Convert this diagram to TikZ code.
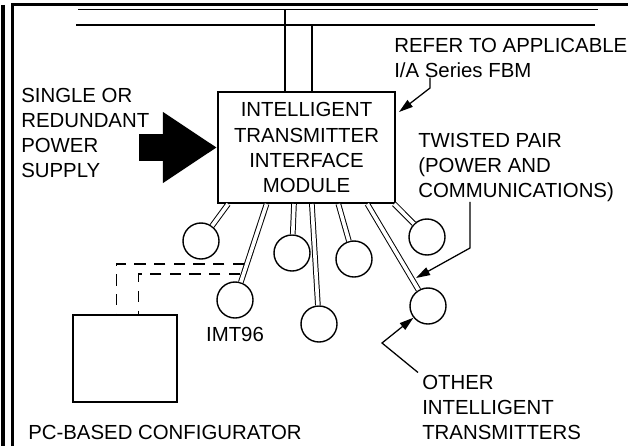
\documentclass[tikz,border=0pt]{standalone}
\usepackage{fontspec}
\setmainfont{Liberation Sans}
\usetikzlibrary{arrows.meta,positioning,calc}

\begin{document}
\begin{tikzpicture}[x=0.025cm, y=-0.025cm,
    every node/.style={font=\fontsize{14.5pt}{17.8pt}\selectfont},
    note/.style={inner sep=0pt, align=left, anchor=north west},
    module/.style={rectangle, draw=black, line width=1.4pt, minimum width=4.425cm, minimum height=2.775cm, align=center, inner sep=0pt},
    pcbox/.style={rectangle, draw=black, line width=1.4pt, minimum width=2.6cm, minimum height=2.175cm},
    station/.style={circle, draw=black, line width=1pt, minimum size=0.9cm, inner sep=0pt},
    frame/.style={line width=2.2pt},
    bus/.style={line width=1.4pt},
    wire/.style={line width=1pt},
    cable/.style={draw=black, line width=0.7pt, double=white, double distance=2.6pt},
    dashlink/.style={line width=0.9pt, dash pattern=on 8pt off 6pt},
    pointer/.style={->, >={Triangle[length=10pt,width=6pt]}, line width=0.9pt},
    power/.style={line width=18.5pt, -{Triangle[length=38.4pt,width=47.7pt]}}
]
    \useasboundingbox (0,0) rectangle (628,446);

    % Ramka
    \draw[frame] (3,5) -- (3,446);
    \draw[frame] (12.5,446) -- (12.5,4.5) -- (628,4.5);

    % Magistrala
    \draw[bus] (78,9.5) -- (598,9.5);
    \draw[bus] (76,25) -- (595,25);

    % Modul
    \node[module] (itim) at (306.5,147.5) {INTELLIGENT\\TRANSMITTER\\INTERFACE\\MODULE};
    \coordinate (tapA) at (285,9.5);
    \coordinate (tapB) at (312,25);
    \draw[wire] (tapA) -- (tapA |- itim.north);
    \draw[wire] (tapB) -- (tapB |- itim.north);

    % Zasilanie
    \node[note] (pwr) at (21,87.7) {SINGLE OR\\REDUNDANT\\POWER\\SUPPLY};
    \coordinate (pwrtail) at (139,147.5);
    \draw[power] (pwrtail) -- (itim.west);

    % FBM
    \node[note] (refer) at (394,37.7) {REFER TO APPLICABLE\\I/A Series FBM};
    \coordinate (referknee) at (430,88);
    \coordinate (refertip) at ($(itim.north east)+(3,21)$);
    \draw[pointer] (referknee |- refer.south) -- (referknee) -- (refertip);

    % Nadajniki
    \node[station] (t1) at (201,241) {};
    \node[station] (t2) at (235,300) {};
    \node[station] (t3) at (292,253) {};
    \node[station] (t4) at (319,324) {};
    \node[station] (t5) at (354,259) {};
    \node[station] (t6) at (427,237) {};
    \node[station] (t7) at (428,306) {};
    \node[below=0.2cm of t2, inner sep=0pt] (imt) {IMT96};

    % Skretki
    \coordinate (b1) at ($(itim.south west)!0.062!(itim.south east)$);
    \coordinate (b2) at ($(itim.south west)!0.277!(itim.south east)$);
    \coordinate (b3) at ($(itim.south west)!0.43!(itim.south east)$);
    \coordinate (b4) at ($(itim.south west)!0.53!(itim.south east)$);
    \coordinate (b5) at ($(itim.south west)!0.678!(itim.south east)$);
    \coordinate (b6) at ($(itim.south west)!0.99!(itim.south east)$);
    \coordinate (b7) at ($(itim.south west)!0.84!(itim.south east)$);
    \draw[cable] (b1) -- (t1);
    \draw[cable] (b2) -- (t2);
    \draw[cable] (b3) -- (t3);
    \draw[cable] (b4) -- (t4);
    \draw[cable] (b5) -- (t5);
    \draw[cable] (b6) -- (t6);
    \draw[cable] (b7) -- (t7);

    % Konfigurator
    \node[pcbox] (pc) at (125,358.5) {};
    \node[note] (pcl) at (28,424.5) {PC-BASED CONFIGURATOR};
    \coordinate (pcA) at ($(pc.north west)!0.42!(pc.north east)$);
    \coordinate (pcB) at ($(pc.north west)!0.63!(pc.north east)$);
    \coordinate (j1) at (244,264);
    \coordinate (j2) at (240,274);
    \draw[dashlink] (j1) -| (pcA);
    \draw[dashlink] (j2) -| (pcB);

    % Opisy
    \node[note] (tp) at (418,132.7) {TWISTED PAIR\\(POWER AND\\COMMUNICATIONS)};
    \coordinate (tpknee) at (470,248);
    \coordinate (tptip) at (416,278);
    \draw[pointer] (tpknee |- tp.south) -- (tpknee) -- (tptip);

    \node[note] (oth) at (422,374.5) {OTHER\\INTELLIGENT\\TRANSMITTERS};
    \coordinate (othknee) at (382,343);
    \draw[pointer] ($(oth.north west)+(-4,-2)$) -- (othknee) -- (t7);
\end{tikzpicture}
\end{document}
